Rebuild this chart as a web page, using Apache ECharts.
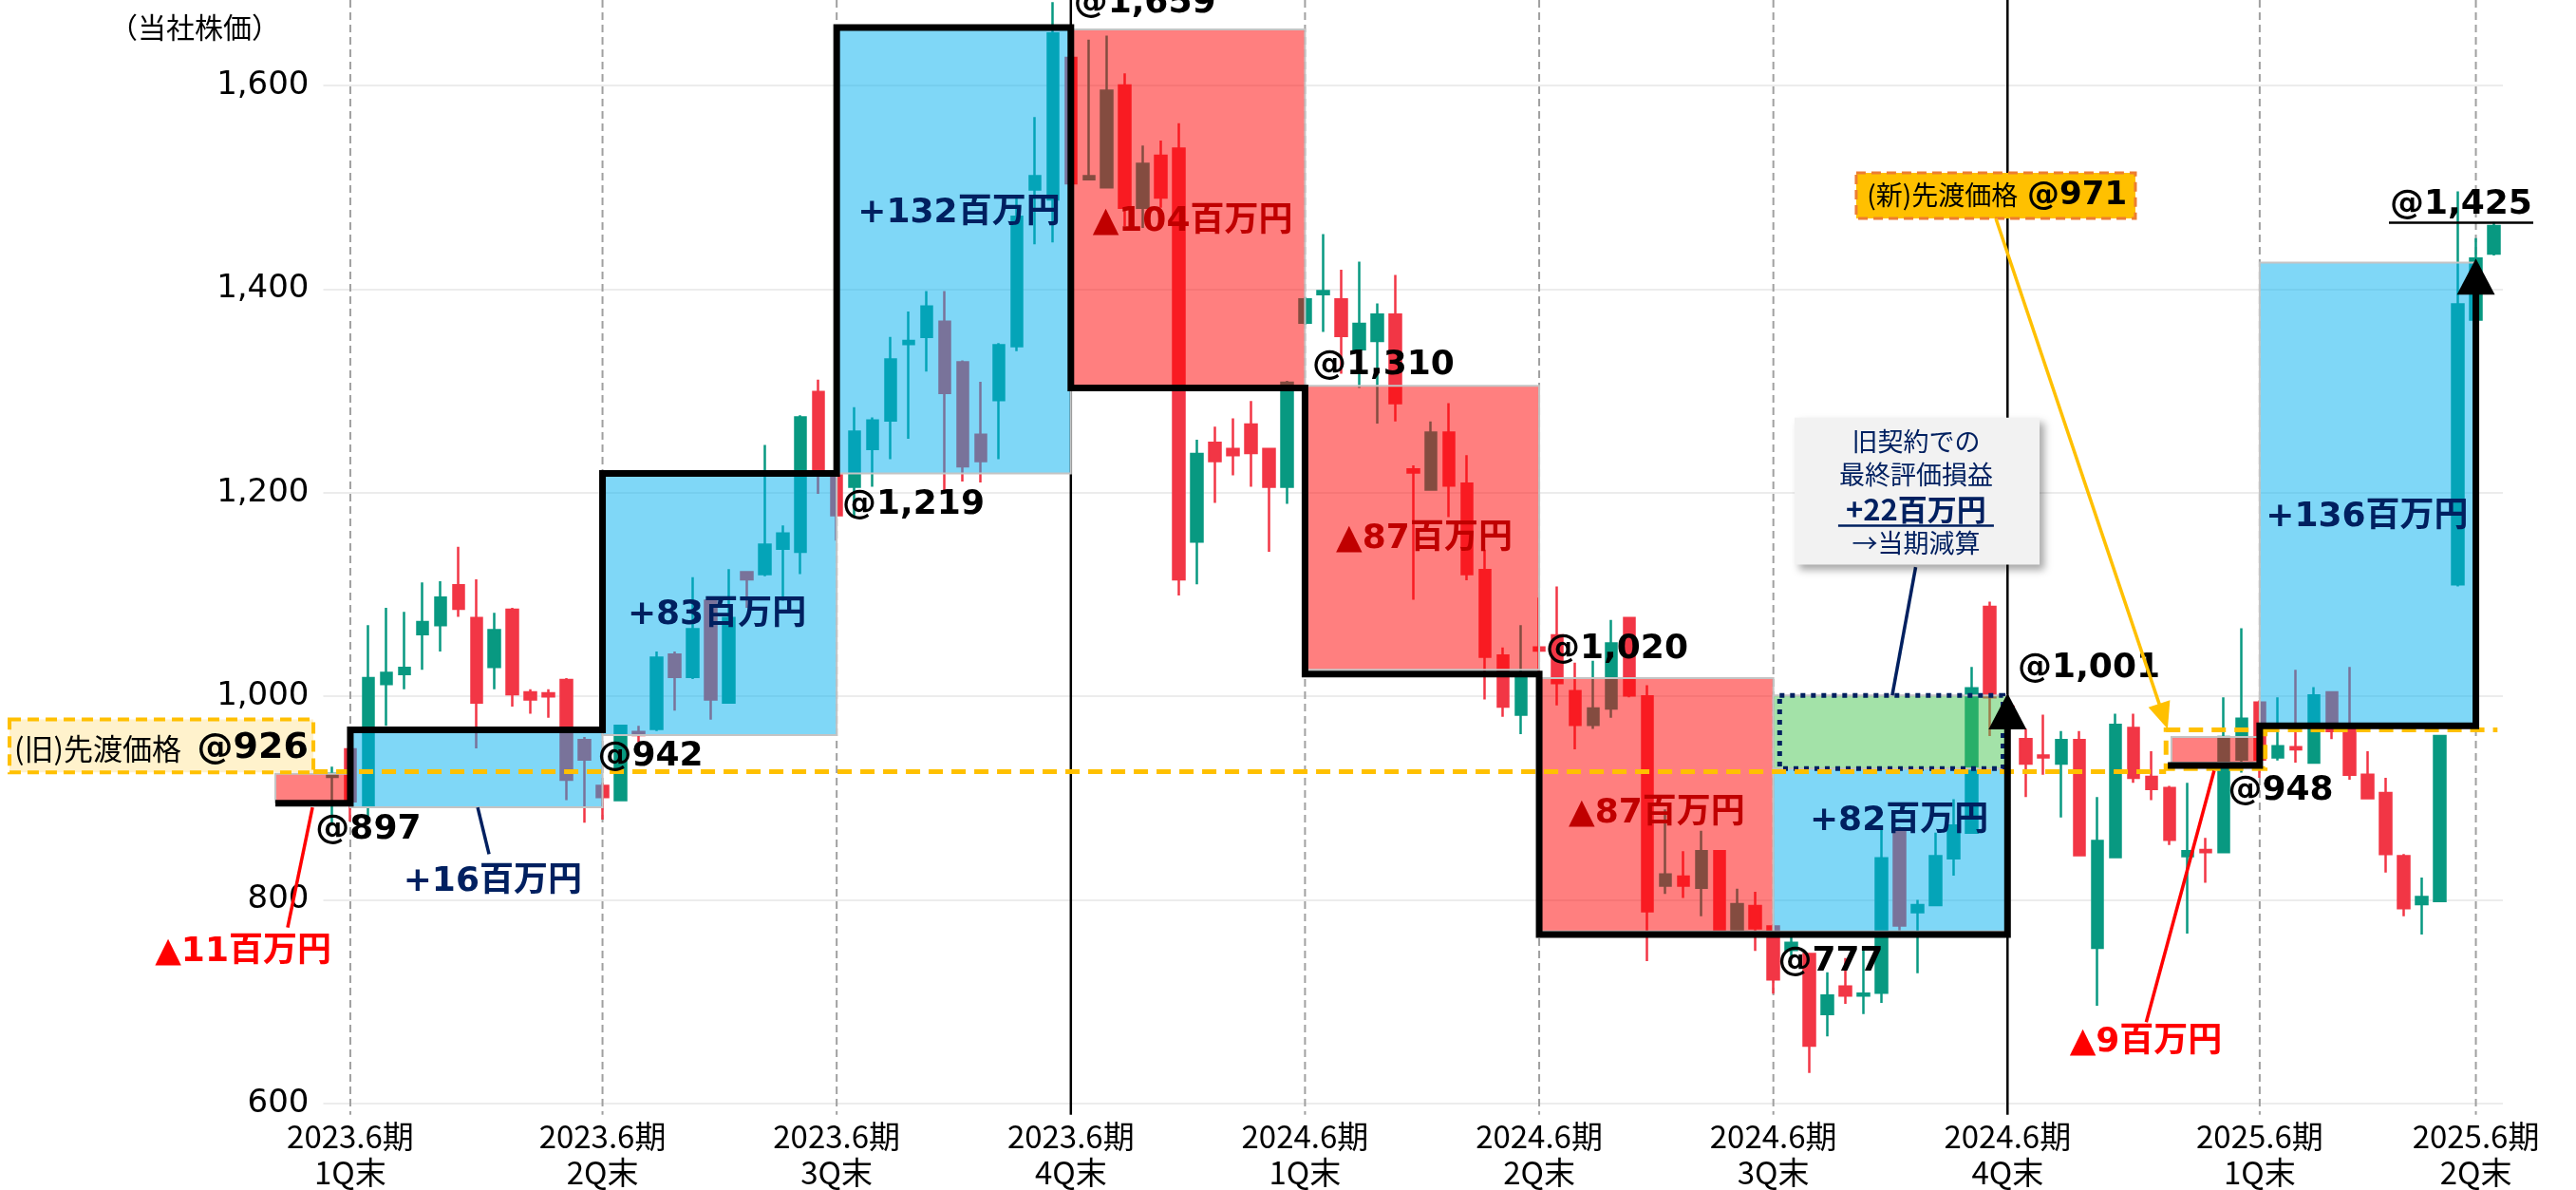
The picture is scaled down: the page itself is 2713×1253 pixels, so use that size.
<!DOCTYPE html>
<html>
<head>
<meta charset="utf-8">
<script src="https://cdn.jsdelivr.net/npm/echarts@6/dist/echarts.min.js"></script>
<style>
html,body{margin:0;padding:0;background:#fff}
#chart{width:2713px;height:1253px}
</style>
</head>
<body>
<div id="chart"></div>
<script>
// weekly prices
const opens  = [921,948,892,1012,1022,1061,1070,1109,1077,1029,1085,1004,1003,1016,957,912,898,965,968,1041,1019,1094,994,1122,1120,1145,1142,1299,1217,1206,
  1243,1271,1346,1353,1368,1328,1257,1291,1344,1498,1488,1627,1508,1500,1600,1480,1531,1538,1152,1249,1243,1267,1243,1206,1367,1395,1390,1341,1349,1375,
  1223,1203,1259,1209,1124,1040,982,1048,1060,1005,972,988,1077,1000,814,823,812,848,771,794,774,751,747,688,715,706,709,870,788,795,
  841,866,1088,990,958,942,934,957,753,842,969,921,910,843,849,847,938,994,940,950,935,1004,968,923,905,843,796,799,1110,1370,1435];
const closes = [924,897,1018,1023,1028,1073,1097,1086,994,1065,1002,997,1000,918,938,901,971,962,1038,1019,1066,997,1077,1115,1149,1160,1274,1221,1178,1260,
  1271,1331,1349,1383,1298,1226,1231,1345,1471,1511,1651,1504,1511,1595,1480,1523,1490,1115,1238,1231,1237,1239,1206,1308,1390,1398,1354,1366,1375,1288,
  1220,1259,1207,1120,1039,990,1019,1045,1013,972,988,1052,1001,789,825,814,848,771,796,772,722,758,657,706,706,708,841,775,795,843,
  873,1008,999,975,934,940,957,844,858,972,920,909,859,848,847,960,978,938,951,948,1001,966,923,900,845,792,803,961,1385,1430,1462];
const lows   = [873,877,882,971,1007,1026,1044,1078,949,1007,990,983,979,898,876,879,897,955,966,986,1017,977,993,1087,1118,1094,1120,1199,1153,1176,
  1206,1233,1253,1319,1200,1211,1210,1233,1339,1444,1446,1500,1507,1499,1462,1460,1480,1099,1110,1190,1217,1206,1142,1189,1365,1358,1317,1303,1268,1270,
  1095,1202,1176,1114,997,980,963,1000,991,948,968,979,999,740,806,802,784,770,770,750,708,745,630,666,698,688,699,770,728,794,
  824,865,961,960,901,923,881,843,696,841,915,898,854,767,817,846,925,920,937,935,934,958,918,899,827,784,766,798,1108,1368,1433];
const highs  = [931,950,1070,1087,1083,1112,1113,1147,1115,1082,1087,1007,1007,1018,960,915,972,971,1044,1044,1117,1096,1125,1123,1247,1168,1276,1311,1219,1284,
  1274,1353,1378,1398,1398,1330,1309,1347,1492,1569,1682,1640,1645,1649,1612,1541,1546,1563,1252,1265,1273,1290,1244,1310,1392,1454,1419,1427,1386,1414,
  1227,1270,1288,1237,1144,1048,1070,1097,1108,1033,1035,1075,1078,1011,889,848,868,849,811,808,776,768,748,729,743,754,869,872,800,866,
  899,1029,1093,1000,968,982,966,966,901,983,983,946,912,915,861,999,1067,996,999,1026,1009,1005,1029,946,920,845,822,962,1496,1450,1466];

// quarter ends (week index) and their labels
const quarterIdx = [1,15,28,41,54,67,80,93,107,119];
const quarterNames = ['2023.6期\n1Q末','2023.6期\n2Q末','2023.6期\n3Q末','2023.6期\n4Q末',
  '2024.6期\n1Q末','2024.6期\n2Q末','2024.6期\n3Q末','2024.6期\n4Q末','2025.6期\n1Q末','2025.6期\n2Q末'];
const yearEnds = [41,93];

// valuation boxes: week from/to, price low/high, kind
const boxFrom = [-3.16,1,15,28,41,54,67,80,80,102.1,107];
const boxTo   = [0.95,15,28,41,54,67,80,93,93,107,119];
const boxLow  = [896,891,962,1219,1305,1026,769,769,929,935,973];
const boxHigh = [924,967,1219,1657,1655,1305,1018,929,1001,960,1426];
const boxKind = ['red','blue','blue','blue','red','red','red','blue','green','red','blue'];

// quarter-end valuation step line (old and new contract)
const stepW = [-3.16,1,1,15,15,28,28,41,41,54,54,67,67,93,93];
const stepP = [895,895,967,967,1219,1219,1657,1657,1303,1303,1022,1022,766,766,1003];
const step2W = [101.9,107,107,119,119];
const step2P = [932,932,971,971,1430];

const oldForward = 926, newForward = 967;

// text notes: week, price, text, style
const notes = [
  [2.0,869,'@897','price'], [8.9,818,'+16百万円','navy'], [-4.95,749,'▲11百万円','red'],
  [17.66,941,'@942','price'], [21.35,1080,'+83百万円','navy'], [32.26,1188,'@1,219','price'],
  [34.79,1474,'+132百万円','navy'], [47.76,1466,'▲104百万円','dred'], [45.1,1681,'@1,659','price'],
  [58.35,1325,'@1,310','price'], [60.62,1154,'▲87百万円','dred'], [71.32,1046,'@1,020','price'],
  [73.53,885,'▲87百万円','dred'], [83.18,739,'@777','price'], [86.98,877,'+82百万円','navy'],
  [97.52,1028,'@1,001','price'], [100.68,660,'▲9百万円','red'], [108.17,907,'@948','price'],
  [112.96,1176,'+136百万円','navy'], [118.18,1483,'@1,425','price']
];
const leaders = [[-2.48,773,-1.1,891,'#FF0000'],[8.7,845,8.07,891,'#002060'],[100.7,680,104.47,927,'#FF0000'],[87.9,1127,86.6,1001,'#002060']];

const fills = {blue:'rgba(0,176,240,0.5)', red:'rgba(255,0,0,0.5)', green:'rgba(71,197,81,0.5)'};
const fonts = {
  price:['bold 36px "DejaVu Sans"','#000'],
  navy:['bold 36px "DejaVu Sans","Noto Sans CJK JP"','#002060'],
  dred:['bold 36px "DejaVu Sans","Noto Sans CJK JP"','#C00000'],
  red:['bold 36px "DejaVu Sans","Noto Sans CJK JP"','#FF0000']
};

var chart = echarts.init(document.getElementById('chart'));
var weeks = opens.map((o,i)=>String(i));
var candleData = opens.map((o,i)=>[o, closes[i], lows[i], highs[i]]);

function backdrop(params, api){
  var ch = [];
  quarterIdx.forEach(function(q){
    var a = api.coord([q,1684]), b = api.coord([q,589]);
    var solid = yearEnds.indexOf(q) >= 0;
    ch.push({type:'line', shape:{x1:a[0],y1:a[1],x2:b[0],y2:b[1]},
      style:{stroke: solid?'#000':'#a0a0a0', lineWidth: solid?2.5:2, lineDash: solid?null:[8,5]}});
  });
  return {type:'group', children:ch};
}

function arrowHead(ch, tip, from, len, half, color){
  var dx = tip[0]-from[0], dy = tip[1]-from[1], d = Math.sqrt(dx*dx+dy*dy);
  var ux = dx/d, uy = dy/d;
  var bx = tip[0]-ux*len, by = tip[1]-uy*len;
  ch.push({type:'polygon', shape:{points:[[tip[0],tip[1]],[bx-uy*half,by+ux*half],[bx+uy*half,by-ux*half]]}, style:{fill:color}});
  return [bx+ux*2, by+uy*2];
}

var api_;
function stepWithArrow(ch, ws, ps){
  var pts = ws.map((w,i)=>api_.coord([w, ps[i]]));
  var tip = pts[pts.length-1];
  var base = arrowHead(ch, tip, pts[pts.length-2], 38, 20, '#000');
  pts[pts.length-1] = base;
  ch.push({type:'polyline', shape:{points:pts}, style:{stroke:'#000', lineWidth:7, lineJoin:'miter', fill:null}});
}

function overlay(params, api){
  api_ = api;
  var P = (w,p)=>api.coord([w,p]);
  var ch = [];
  for (var i = 0; i < boxFrom.length; i++){
    var a = P(boxFrom[i], boxHigh[i]), c = P(boxTo[i], boxLow[i]);
    ch.push({type:'rect', shape:{x:a[0],y:a[1],width:c[0]-a[0],height:c[1]-a[1]},
      style:{fill:fills[boxKind[i]], stroke:'#c4c4c4', lineWidth:2}});
  }
  // dotted frame round the old-contract gain
  var g1 = P(80.35,1001), g2 = P(92.75,929);
  ch.push({type:'rect', shape:{x:g1[0],y:g1[1],width:g2[0]-g1[0],height:g2[1]-g1[1]},
    style:{fill:null, stroke:'#002060', lineWidth:5, lineDash:[5,6]}});

  // forward price lines
  var y1 = P(-1.05,oldForward), y2 = P(101.8,oldForward);
  ch.push({type:'line', shape:{x1:y1[0],y1:y1[1],x2:y2[0],y2:y2[1]}, style:{stroke:'#FFC000', lineWidth:5, lineDash:[15,9]}});
  var n1 = P(101.8,newForward), n2 = P(107.3,929), n3 = P(120.2,newForward);
  ch.push({type:'rect', shape:{x:n1[0],y:n1[1],width:n2[0]-n1[0],height:n2[1]-n1[1]}, style:{fill:null, stroke:'#FFC000', lineWidth:5, lineDash:[15,9]}});
  ch.push({type:'line', shape:{x1:n2[0],y1:n1[1],x2:n3[0],y2:n3[1]}, style:{stroke:'#FFC000', lineWidth:5, lineDash:[15,9]}});

  stepWithArrow(ch, stepW, stepP);
  stepWithArrow(ch, step2W, step2P);

  leaders.forEach(function(l){
    var a = P(l[0],l[1]), b = P(l[2],l[3]);
    ch.push({type:'line', shape:{x1:a[0],y1:a[1],x2:b[0],y2:b[1]}, style:{stroke:l[4], lineWidth:3.5}});
  });

  notes.forEach(function(n){
    var p = P(n[0],n[1]);
    ch.push({type:'text', x:p[0], y:p[1], style:{text:n[2], font:fonts[n[3]][0], fill:fonts[n[3]][1], align:'center', verticalAlign:'middle'}});
  });
  var u = P(118.18,1483);
  ch.push({type:'line', shape:{x1:u[0]-76,y1:u[1]+19,x2:u[0]+76,y2:u[1]+19}, style:{stroke:'#000', lineWidth:2.5}});

  // old forward label
  var o1 = P(-17.92,977.4), o2 = P(-1.05,925.3);
  ch.push({type:'rect', shape:{x:o1[0],y:o1[1],width:o2[0]-o1[0],height:o2[1]-o1[1]}, style:{fill:'#FFF2CC', stroke:'#FFC000', lineWidth:4, lineDash:[12,7]}});
  var ot = P(-17.66,949), on = P(-1.32,949);
  ch.push({type:'text', x:ot[0], y:ot[1], style:{text:'(旧)先渡価格', font:'31px "Noto Sans CJK JP"', fill:'#000', align:'left', verticalAlign:'middle'}});
  ch.push({type:'text', x:on[0], y:on[1], style:{text:'@926', font:'bold 38px "DejaVu Sans"', fill:'#000', align:'right', verticalAlign:'middle'}});

  // new forward label + arrow
  var f1 = P(84.6,1514.3), f2 = P(100.1,1469.5);
  ch.push({type:'rect', shape:{x:f1[0],y:f1[1],width:f2[0]-f1[0],height:f2[1]-f1[1]}, style:{fill:'#FFC000', stroke:'#ED7D31', lineWidth:3, lineDash:[10,6]}});
  var ft = P(85.2,1492), fn = P(99.63,1492);
  ch.push({type:'text', x:ft[0], y:ft[1], style:{text:'(新)先渡価格', font:'28px "Noto Sans CJK JP"', fill:'#000', align:'left', verticalAlign:'middle'}});
  ch.push({type:'text', x:fn[0], y:fn[1], style:{text:'@971', font:'bold 34px "DejaVu Sans"', fill:'#000', align:'right', verticalAlign:'middle'}});
  var aS = P(92.35,1469.5), aT = P(101.89,968);
  var aB = arrowHead(ch, aT, aS, 28, 12, '#FFC000');
  ch.push({type:'line', shape:{x1:aS[0],y1:aS[1],x2:aB[0],y2:aB[1]}, style:{stroke:'#FFC000', lineWidth:3.5}});

  // old contract note
  var b1 = P(81.18,1273.8), b2 = P(94.78,1129.4);
  ch.push({type:'rect', shape:{x:b1[0],y:b1[1],width:b2[0]-b1[0],height:b2[1]-b1[1]},
    style:{fill:'#F2F2F2', shadowBlur:8, shadowOffsetX:5, shadowOffsetY:5, shadowColor:'rgba(0,0,0,0.35)'}});
  var lines = [[1250.5,'旧契約での','27px'],[1217.9,'最終評価損益','27px'],[1183.4,'+22百万円','bold 31px'],[1150.8,'→当期減算','27px']];
  lines.forEach(function(l){
    var p = P(87.92,l[0]);
    ch.push({type:'text', x:p[0], y:p[1], style:{text:l[1], font:l[2]+' "Noto Sans CJK JP"', fill:'#002060', align:'center', verticalAlign:'middle'}});
  });
  var ul = P(87.92,1183.4);
  ch.push({type:'line', shape:{x1:ul[0]-82,y1:ul[1]+17,x2:ul[0]+82,y2:ul[1]+17}, style:{stroke:'#002060', lineWidth:2.5}});

  var yt = P(-7.64,1657);
  ch.push({type:'text', x:yt[0], y:yt[1], style:{text:'（当社株価）', font:'30px "Noto Sans CJK JP"', fill:'#000', align:'center', verticalAlign:'middle'}});
  return {type:'group', children:ch};
}

chart.setOption({
  animation:false,
  backgroundColor:'#fff',
  grid:{left:340.5, right:77, top:0, bottom:90},
  xAxis:[{
    type:'category', data:weeks, boundaryGap:true,
    axisLine:{show:false}, axisTick:{show:false}, splitLine:{show:false},
    axisLabel:{
      interval:0, margin:15, color:'#000', fontSize:33, lineHeight:38,
      fontFamily:'"Noto Sans CJK JP"',
      formatter:function(v, i){ var k = quarterIdx.indexOf(i); return k >= 0 ? quarterNames[k] : ''; }
    }
  },{type:'value', min:-0.5, max:120.5, show:false}],
  yAxis:{
    type:'value', min:600, max:1684, interval:200,
    axisLine:{show:false}, axisTick:{show:false},
    splitLine:{showMaxLine:false, lineStyle:{color:'#ececec', width:2}},
    axisLabel:{showMaxLabel:false, margin:15, color:'#000', fontSize:34, fontFamily:'DejaVu Sans',
      formatter:function(v){ return v.toLocaleString('en-US'); }}
  },
  series:[
    {type:'custom', xAxisIndex:1, z:1, silent:true, data:[[0,1000]], renderItem:backdrop},
    {type:'candlestick', z:2, silent:true, data:candleData, barWidth:12,
      itemStyle:{color:'#089981', color0:'#F23645', borderColor:'#089981', borderColor0:'#F23645', borderWidth:2.5}},
    {type:'custom', xAxisIndex:1, z:3, silent:true, data:[[0,1000]], renderItem:overlay}
  ]
});
</script>
</body>
</html>
